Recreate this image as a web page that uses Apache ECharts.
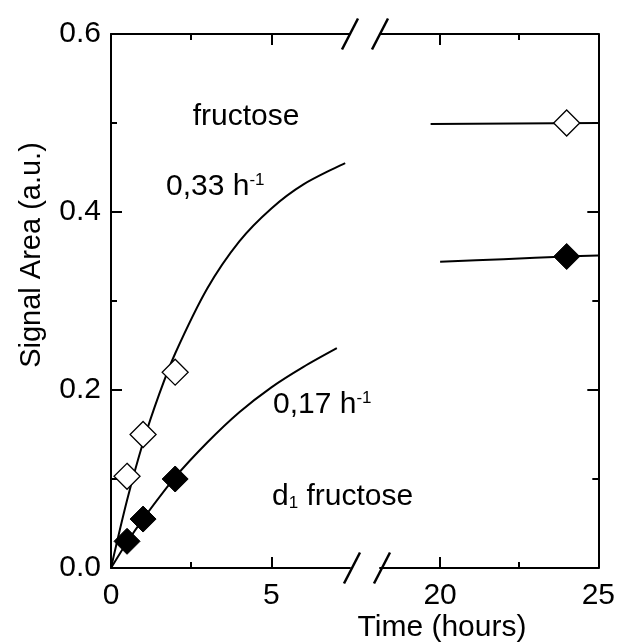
<!DOCTYPE html>
<html>
<head>
<meta charset="utf-8">
<script src="https://cdn.jsdelivr.net/npm/echarts@6/dist/echarts.min.js"></script>
<style>
html,body{margin:0;padding:0;background:#fff;}
#container{width:618px;height:642px;}
</style>
</head>
<body>
<div id="container"></div>
<script>
// measured points (hours, signal area)
var fructoseT = [0.5, 1, 2, 24];
var fructoseY = [0.103, 0.15, 0.22, 0.50];
var d1T = [0.5, 1, 2, 24];
var d1Y = [0.03, 0.055, 0.10, 0.35];

// fitted curves, left part (0-7.5 h) and right part (20-25 h)
var fitFastLeftT = [0, 0.5, 1, 1.5, 2, 3, 4, 5, 6, 7.3];
var fitFastLeftY = [0, 0.076, 0.141, 0.195, 0.241, 0.314, 0.367, 0.404, 0.431, 0.455];
var fitFastRightT = [19.7, 25];
var fitFastRightY = [0.499, 0.5];
var fitSlowLeftT = [0, 0.5, 1, 2, 3, 4, 5, 6, 7.04];
var fitSlowLeftY = [0, 0.029, 0.055, 0.102, 0.141, 0.175, 0.203, 0.226, 0.247];
var fitSlowRightT = [20, 22, 24, 25];
var fitSlowRightY = [0.344, 0.347, 0.350, 0.351];

var leftRange = [0, 7.45];
var rightRange = [18.1, 25];
var leftMajor = [0, 5], leftMinor = [2.5];
var rightMajor = [20, 25], rightMinor = [22.5];

var FONT = 'Liberation Sans';
var FS = 30;

function pairs(xs, ys) {
	var arr = [];
	for (var i = 0; i < xs.length; ++i) arr.push([xs[i], ys[i]]);
	return arr;
}
function pick(xs, ys, lo, hi) {
	var arr = [];
	for (var i = 0; i < xs.length; ++i)
		if (xs[i] >= lo && xs[i] <= hi) arr.push([xs[i], ys[i]]);
	return arr;
}

var G1 = {left: 111, top: 34, width: 239, bottom: 74};
var G2 = {left: 380, top: 34, width: 220, bottom: 74};

function xAx(grid, range, pos, ticks, len, withLine, withLabel) {
	return {
		type: 'value', gridIndex: grid, position: pos,
		min: range[0], max: range[1],
		axisLine: {show: withLine, onZero: false, lineStyle: {color: '#000', width: 2}},
		axisTick: {show: true, inside: true, length: len, customValues: ticks,
			lineStyle: {color: '#000', width: 2}},
		axisLabel: {show: withLabel, customValues: ticks, margin: 13,
			color: '#000', fontFamily: FONT, fontSize: FS},
		splitLine: {show: false}
	};
}
function yAx(grid, pos, withLabel) {
	return {
		type: 'value', gridIndex: grid, position: pos,
		min: 0, max: 0.6, interval: 0.2,
		axisLine: {show: true, onZero: false, lineStyle: {color: '#000', width: 2}},
		axisTick: {show: true, inside: true, length: 11, lineStyle: {color: '#000', width: 2}},
		minorTick: {show: true, splitNumber: 2, length: 6, lineStyle: {color: '#000', width: 2}},
		axisLabel: {show: withLabel, margin: 10, color: '#000', fontFamily: FONT, fontSize: FS,
			formatter: function (v) { return v.toFixed(1); }},
		splitLine: {show: false}
	};
}

var myChart = echarts.init(document.getElementById('container'));

function slash(cx, cy) {
	return {
		type: 'line', z: 100,
		shape: {x1: cx - 8, y1: cy + 15.5, x2: cx + 8, y2: cy - 15.5},
		style: {stroke: '#000', lineWidth: 2.5}
	};
}
var H = 642;
var yBottom = H - G1.bottom;
var openStyle = {color: '#fff', borderColor: '#000', borderWidth: 1.3, opacity: 1};
var fillStyle = {color: '#000', borderColor: '#000', borderWidth: 1, opacity: 1};

var option = {
	animation: false,
	backgroundColor: '#fff',
	grid: [
		{left: G1.left, top: G1.top, width: G1.width, bottom: G1.bottom},
		{left: G2.left, top: G2.top, width: G2.width, bottom: G2.bottom}
	],
	xAxis: [
		xAx(0, leftRange, 'bottom', leftMajor, 11, true, true),
		xAx(0, leftRange, 'bottom', leftMinor, 6, false, false),
		xAx(0, leftRange, 'top', leftMajor, 11, true, false),
		xAx(0, leftRange, 'top', leftMinor, 6, false, false),
		xAx(1, rightRange, 'bottom', rightMajor, 11, true, true),
		xAx(1, rightRange, 'bottom', rightMinor, 6, false, false),
		xAx(1, rightRange, 'top', rightMajor, 11, true, false),
		xAx(1, rightRange, 'top', rightMinor, 6, false, false)
	],
	yAxis: [
		yAx(0, 'left', true),
		yAx(1, 'right', false)
	],
	series: [
		{type: 'line', xAxisIndex: 0, yAxisIndex: 0, data: pairs(fitFastLeftT, fitFastLeftY),
			smooth: 0.3, showSymbol: false, lineStyle: {color: '#000', width: 2}},
		{type: 'line', xAxisIndex: 0, yAxisIndex: 0, data: pairs(fitSlowLeftT, fitSlowLeftY),
			smooth: 0.3, showSymbol: false, lineStyle: {color: '#000', width: 2}},
		{type: 'line', xAxisIndex: 4, yAxisIndex: 1, data: pairs(fitFastRightT, fitFastRightY),
			showSymbol: false, lineStyle: {color: '#000', width: 2}},
		{type: 'line', xAxisIndex: 4, yAxisIndex: 1, data: pairs(fitSlowRightT, fitSlowRightY),
			smooth: 0.3, showSymbol: false, lineStyle: {color: '#000', width: 2}},
		{type: 'scatter', xAxisIndex: 0, yAxisIndex: 0, data: pick(fructoseT, fructoseY, 0, 7.45),
			symbol: 'diamond', symbolSize: 26, z: 5, itemStyle: openStyle},
		{type: 'scatter', xAxisIndex: 4, yAxisIndex: 1, data: pick(fructoseT, fructoseY, 18, 25),
			symbol: 'diamond', symbolSize: 26, z: 5, itemStyle: openStyle},
		{type: 'scatter', xAxisIndex: 0, yAxisIndex: 0, data: pick(d1T, d1Y, 0, 7.45),
			symbol: 'diamond', symbolSize: 26, z: 5, itemStyle: fillStyle},
		{type: 'scatter', xAxisIndex: 4, yAxisIndex: 1, data: pick(d1T, d1Y, 18, 25),
			symbol: 'diamond', symbolSize: 26, z: 5, itemStyle: fillStyle}
	],
	graphic: [
		slash(G1.left + G1.width, G1.top),
		slash(G2.left, G2.top),
		slash(G1.left + G1.width + 2, yBottom),
		slash(G2.left + 2, yBottom),
		{type: 'text', x: 32, y: 255, rotation: Math.PI / 2,
			style: {text: 'Signal Area (a.u.)', fill: '#000', font: '29px ' + FONT,
				align: 'center', verticalAlign: 'middle'}},
		{type: 'text', x: 442, y: 628,
			style: {text: 'Time (hours)', fill: '#000', font: FS + 'px ' + FONT,
				align: 'center', verticalAlign: 'middle'}},
		{type: 'text', x: 246, y: 117,
			style: {text: 'fructose', fill: '#000', font: FS + 'px ' + FONT,
				align: 'center', verticalAlign: 'middle'}},
		{type: 'text', x: 166, y: 187,
			style: {text: '0,33 h{sup|-1}', fill: '#000', fontFamily: FONT, fontSize: FS,
				align: 'left', verticalAlign: 'middle',
				rich: {sup: {fontFamily: FONT, fontSize: 17, verticalAlign: 'top', lineHeight: 17}}}},
		{type: 'text', x: 273, y: 405,
			style: {text: '0,17 h{sup|-1}', fill: '#000', fontFamily: FONT, fontSize: FS,
				align: 'left', verticalAlign: 'middle',
				rich: {sup: {fontFamily: FONT, fontSize: 17, verticalAlign: 'top', lineHeight: 17}}}},
		{type: 'text', x: 272, y: 497,
			style: {text: 'd{sub|1} fructose', fill: '#000', fontFamily: FONT, fontSize: FS,
				align: 'left', verticalAlign: 'middle',
				rich: {sub: {fontFamily: FONT, fontSize: 17, verticalAlign: 'bottom', lineHeight: 17, padding: [12, 0, 0, 0]}}}}
	]
};
myChart.setOption(option);
</script>
</body>
</html>
